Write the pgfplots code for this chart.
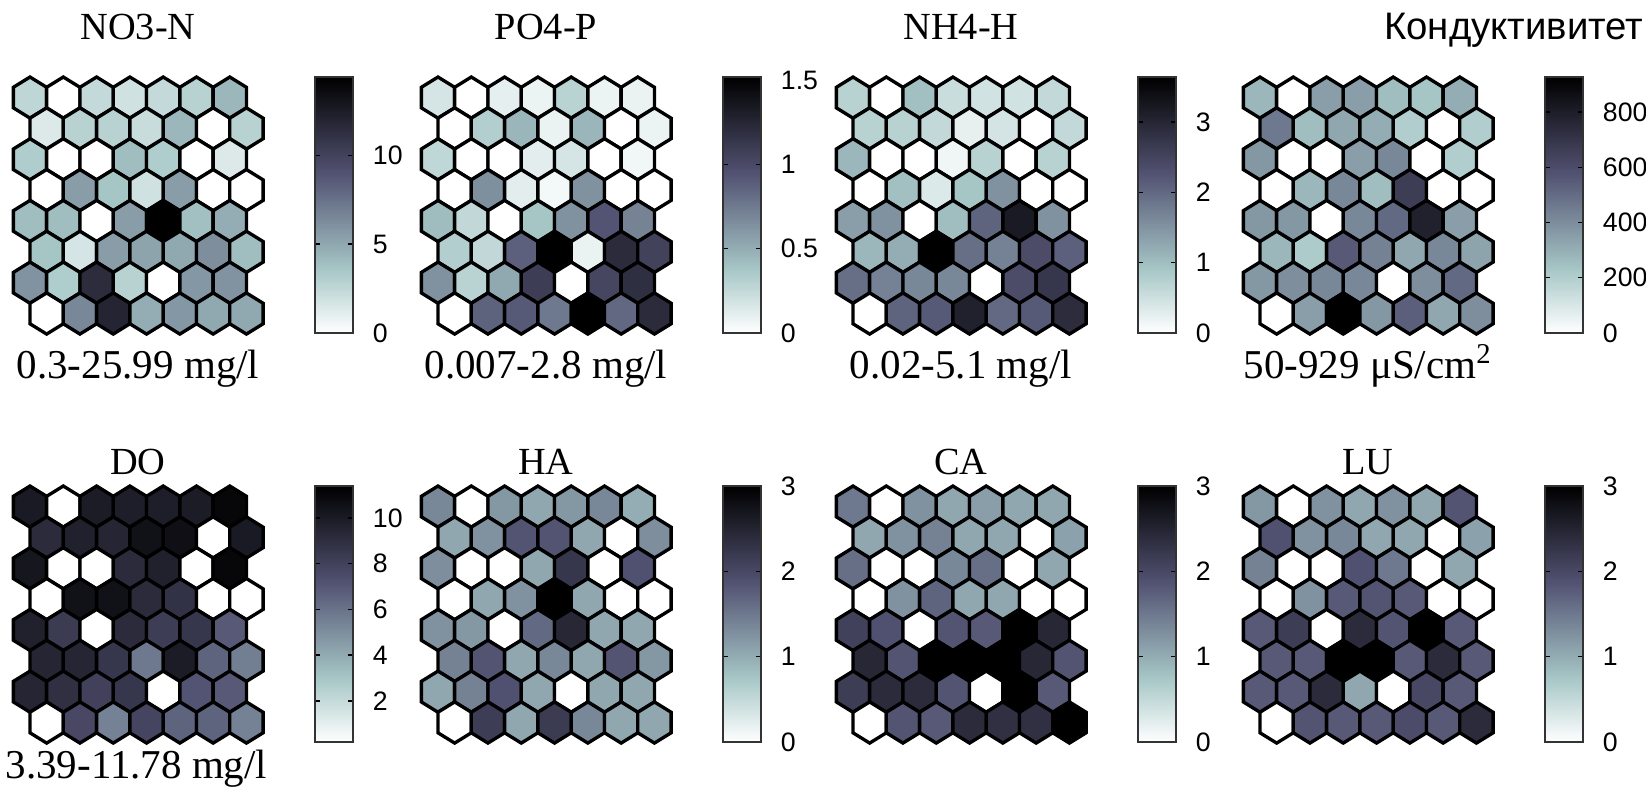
\documentclass[border=0pt]{standalone}
\usepackage{fontspec}
\setmainfont{Liberation Serif}
\setsansfont{Liberation Sans}
\usepackage{pgfplots}
\usepackage{pgfplotstable}
\pgfplotsset{compat=1.18}
\pgfplotsset{/pgf/number format/assume math mode=true}

\pgfdeclareplotmark{hexa}{%
  \pgfpathmoveto{\pgfqpoint{0pt}{6.17pt}}%
  \pgfpathlineto{\pgfqpoint{4.995pt}{3.085pt}}%
  \pgfpathlineto{\pgfqpoint{4.995pt}{-3.085pt}}%
  \pgfpathlineto{\pgfqpoint{0pt}{-6.17pt}}%
  \pgfpathlineto{\pgfqpoint{-4.995pt}{-3.085pt}}%
  \pgfpathlineto{\pgfqpoint{-4.995pt}{3.085pt}}%
  \pgfpathclose
  \pgfusepathqfillstroke}

\pgfplotsset{
  colormap={bonerev}{rgb(0cm)=(1,1,1); rgb(2cm)=(0.6528,0.7778,0.7778); rgb(5cm)=(0.3194,0.3194,0.4444); rgb(8cm)=(0,0,0)},
  somax/.style={
    hide axis, x=9.99pt, y=9.255pt, y dir=reverse,
    xmin=-0.5, xmax=7, ymin=0.3333, ymax=8.6667,
    anchor=north west, clip=false,
    colormap name=bonerev, colorbar,
    colorbar style={width=11.4pt, height=76.8pt,
      at={(parent axis.north east)}, anchor=north west, xshift=7pt,
      tick align=inside, major tick length=1.5pt, ytick pos=both, yticklabel pos=right,
      yticklabel style={font=\fontsize{8pt}{9pt}\selectfont\sffamily, xshift=2.5pt},
      axis line style={line width=0.4pt, black!80}, tick style={line width=0.4pt, black},
      scaled y ticks=false},
  },
  hexplot/.style={scatter, only marks, mark=hexa, line width=1.0pt,
    scatter/use mapped color={draw=black, fill=mapped color}},
}

\pgfplotstableread{
x   y  no3   po4   nh4   ec   do     ha    ca    lu
0   1  2.6   0.18  0.73  278  10.06  1.35  1.50  1.20
1   1  0     0     0     0    0.2    0     0     0
2   1  2.4   0.11  0.98  352  9.94   1.20  1.26  1.26
3   1  1.9   0.08  0.55  352  9.83   1.05  1.05  1.05
4   1  2.4   0.30  0.47  260  9.83   1.20  1.14  1.26
5   1  2.9   0.08  0.47  232  9.94   1.35  1.05  1.05
6   1  4.3   0.09  0.62  306  11.06  1.00  1.05  1.86
0.5 2  1.4   0     0.73  464  9.16   1.05  1.05  1.89
1.5 2  2.9   0.33  0.73  260  9.72   1.26  1.26  1.26
2.5 2  2.9   0.46  0.62  324  9.50   1.86  1.41  1.35
3.5 2  2.2   0.09  0.25  306  10.50  1.86  1.05  1.05
4.5 2  4.3   0.46  0.44  204  10.62  1.05  1.05  1.05
5.5 2  0     0     0     0    0.2    0     0     0
6.5 2  2.9   0.08  0.62  204  10.06  1.29  1.11  1.11
0   3  3.2   0.27  1.09  371  10.28  1.29  1.59  1.41
1   3  0     0     0     0    0.2    0     0     0
2   3  0     0     0     0    0.2    0     0     0
3   3  4.0   0.12  0.15  352  9.16   1.05  1.35  1.89
4   3  3.2   0.18  0.73  417  9.72   2.25  1.59  1.50
5   3  0     0     0     0    0.2    0     0     0
6   3  1.4   0.06  0.73  204  11.06  1.89  1.05  1.05
0.5 4  0     0     0     0    0.2    0     0     0
1.5 4  5.5   0.65  0.98  278  10.50  1.05  1.26  1.26
2.5 4  3.6   0.12  0.36  417  10.50  1.26  1.71  1.80
3.5 4  1.9   0.05  0.91  260  9.16   3.00  1.05  1.86
4.5 4  5.5   0.64  1.53  667  8.82   1.05  1.05  1.80
5.5 4  0     0     0     0    0.2    0     0     0
6.5 4  0     0     0     0    0.2    0     0     0
0   5  4.0   0.43  1.38  371  9.72   1.26  2.10  1.80
1   5  4.0   0.26  1.53  371  8.38   1.20  1.89  2.16
2   5  0     0     0     0    0.2    0     0     0
3   5  5.5   0.38  1.02  417  9.16   1.65  1.86  2.40
4   5  14.4  0.64  2.07  510  8.26   2.46  1.80  1.86
5   5  3.9   0.94  3.20  788  8.60   1.05  3.00  3.00
6   5  4.8   0.71  1.53  352  6.92   1.05  2.46  1.80
0.5 6  3.6   0.33  1.09  278  9.50   1.41  2.46  1.80
1.5 6  1.7   0.26  1.20  213  9.50   1.86  1.86  1.80
2.5 6  5.5   0.88  3.64  556  8.60   1.05  3.00  3.00
3.5 6  5.2   1.52  1.93  436  5.80   1.35  3.00  3.00
4.5 6  5.0   0.09  1.71  324  9.94   1.05  3.00  1.80
5.5 6  6.2   1.22  2.37  417  6.58   1.86  2.46  2.40
6.5 6  4.0   1.06  2.11  334  5.58   1.20  1.86  1.80
0   7  6.0   0.64  1.93  371  9.50   1.05  2.16  1.80
1   7  3.2   0.30  1.71  399  8.94   1.41  2.40  1.80
2   7  11.5  0.53  1.64  417  8.04   1.89  2.40  2.40
3   7  2.9   1.09  1.64  417  8.60   1.05  1.86  1.05
4   7  0     0     0     0    0.2    0     0     0
5   7  5.8   1.03  2.37  399  7.14   1.05  3.00  2.01
6   7  6.0   1.19  2.73  510  6.92   1.05  1.80  1.80
0.5 8  0     0     0     0    0.2    0     0     0
1.5 8  6.5   0.87  2.07  352  7.70   2.16  1.86  1.86
2.5 8  12.0  0.91  2.18  927  5.46   1.05  1.80  1.80
3.5 8  4.8   0.76  3.09  371  7.82   2.19  2.40  1.80
4.5 8  5.8   1.52  2.00  538  6.58   1.35  2.34  1.95
5.5 8  5.0   0.84  2.18  324  6.58   1.05  2.34  1.80
6.5 8  5.0   1.22  2.91  399  5.46   1.05  3.00  2.40
}\som

\newcommand{\ttl}{\fontsize{11.5pt}{13pt}\selectfont}
\newcommand{\lbl}{\fontsize{12.3pt}{14pt}\selectfont}

\begin{document}
\begin{tikzpicture}
\useasboundingbox (0,0) rectangle (493.8pt,-236.7pt);

% ---- top row ----
\begin{axis}[somax, at={(4.005pt,-23.1pt)}, point meta min=0, point meta max=14.4,
  colorbar style={ytick={0,5,10}}]
\addplot[hexplot, point meta=\thisrow{no3}] table[x=x,y=y] {\som};
\end{axis}
\begin{axis}[somax, at={(126.405pt,-23.1pt)}, point meta min=0, point meta max=1.52,
  colorbar style={ytick={0,0.5,1,1.5}}]
\addplot[hexplot, point meta=\thisrow{po4}] table[x=x,y=y] {\som};
\end{axis}
\begin{axis}[somax, at={(250.905pt,-23.1pt)}, point meta min=0, point meta max=3.64,
  colorbar style={ytick={0,1,2,3}}]
\addplot[hexplot, point meta=\thisrow{nh4}] table[x=x,y=y] {\som};
\end{axis}
\begin{axis}[somax, at={(373.005pt,-23.1pt)}, point meta min=0, point meta max=927,
  colorbar style={ytick={0,200,400,600,800}}]
\addplot[hexplot, point meta=\thisrow{ec}] table[x=x,y=y] {\som};
\end{axis}

% ---- bottom row ----
\begin{axis}[somax, at={(4.005pt,-145.8pt)}, point meta min=0.2, point meta max=11.4,
  colorbar style={ytick={2,4,6,8,10}}]
\addplot[hexplot, point meta=\thisrow{do}] table[x=x,y=y] {\som};
\end{axis}
\begin{axis}[somax, at={(126.405pt,-145.8pt)}, point meta min=0, point meta max=3,
  colorbar style={ytick={0,1,2,3}}]
\addplot[hexplot, point meta=\thisrow{ha}] table[x=x,y=y] {\som};
\end{axis}
\begin{axis}[somax, at={(250.905pt,-145.8pt)}, point meta min=0, point meta max=3,
  colorbar style={ytick={0,1,2,3}}]
\addplot[hexplot, point meta=\thisrow{ca}] table[x=x,y=y] {\som};
\end{axis}
\begin{axis}[somax, at={(373.005pt,-145.8pt)}, point meta min=0, point meta max=3,
  colorbar style={ytick={0,1,2,3}}]
\addplot[hexplot, point meta=\thisrow{lu}] table[x=x,y=y] {\som};
\end{axis}

% ---- titles ----
\node[anchor=base, inner sep=0pt, font=\ttl] at (41.4pt,-11.7pt) {NO3-N};
\node[anchor=base, inner sep=0pt, font=\ttl] at (163.8pt,-11.7pt) {PO4-P};
\node[anchor=base, inner sep=0pt, font=\ttl] at (288.3pt,-11.7pt) {NH4-H};
\node[anchor=base east, inner sep=0pt, font=\ttl\sffamily] at (493.2pt,-11.7pt) {Кондуктивитет};
\node[anchor=base, inner sep=0pt, font=\ttl] at (41.4pt,-142.2pt) {DO};
\node[anchor=base, inner sep=0pt, font=\ttl] at (163.8pt,-142.2pt) {HA};
\node[anchor=base, inner sep=0pt, font=\ttl] at (288.3pt,-142.2pt) {CA};
\node[anchor=base, inner sep=0pt, font=\ttl] at (410.4pt,-142.2pt) {LU};

% ---- range labels ----
\node[anchor=base, inner sep=0pt, font=\lbl] at (41.4pt,-113.4pt) {0.3-25.99 mg/l};
\node[anchor=base, inner sep=0pt, font=\lbl] at (163.8pt,-113.4pt) {0.007-2.8 mg/l};
\node[anchor=base, inner sep=0pt, font=\lbl] at (288.3pt,-113.4pt) {0.02-5.1 mg/l};
\node[anchor=base, inner sep=0pt, font=\lbl] at (410.4pt,-113.4pt) {50-929 μS/cm\textsuperscript{2}};
\node[anchor=base west, inner sep=0pt, font=\lbl] at (1.5pt,-233.4pt) {3.39-11.78 mg/l};
\end{tikzpicture}
\end{document}
